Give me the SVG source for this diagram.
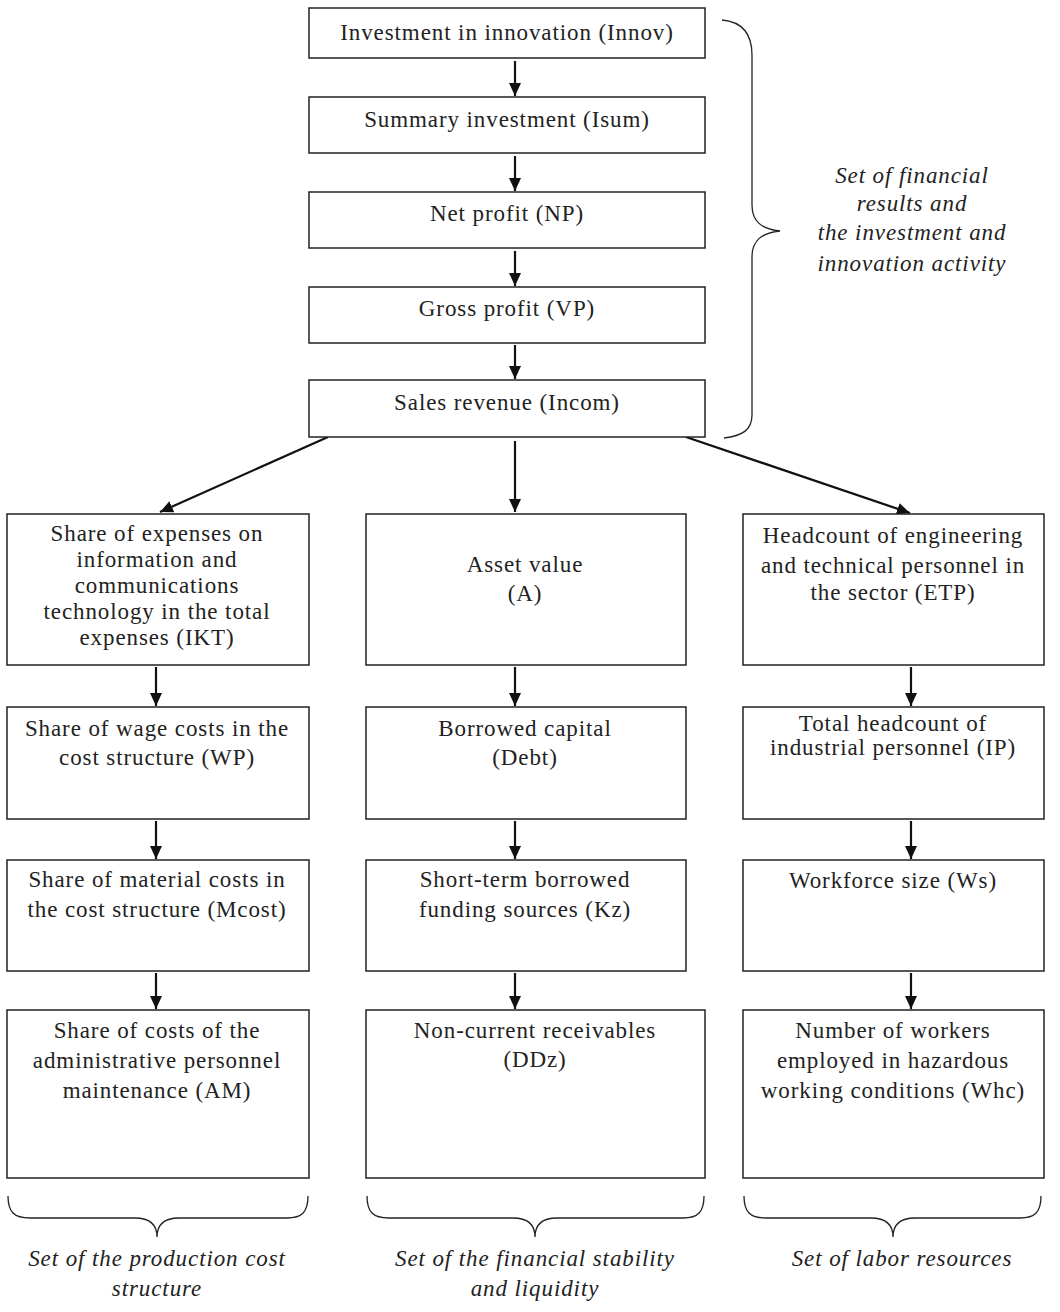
<svg xmlns="http://www.w3.org/2000/svg" width="1060" height="1312" viewBox="0 0 1060 1312">
<style>
.box{fill:#fff;stroke:#222;stroke-width:1.5}
.t{font-family:"Liberation Serif","Times New Roman",serif;font-size:23px;letter-spacing:0.9px;fill:#222;text-anchor:middle}
.it{font-family:"Liberation Serif","Times New Roman",serif;font-size:23px;letter-spacing:0.9px;font-style:italic;fill:#222;text-anchor:middle}
.c{stroke:#111;stroke-width:2.2;fill:none}
.br{stroke:#222;stroke-width:1.3;fill:none}
</style>
<defs>
<marker id="ah" markerUnits="userSpaceOnUse" markerWidth="14" markerHeight="14" refX="13" refY="6" orient="auto">
<path d="M0,0 L13,6 L0,12 Z" fill="#111"/>
</marker>
</defs>
<rect width="1060" height="1312" fill="#fff"/>
<g id="connectors">
<line class="c" x1="515" y1="61" x2="515" y2="96" marker-end="url(#ah)"/>
<line class="c" x1="515" y1="156" x2="515" y2="191" marker-end="url(#ah)"/>
<line class="c" x1="515" y1="251" x2="515" y2="286" marker-end="url(#ah)"/>
<line class="c" x1="515" y1="345" x2="515" y2="379" marker-end="url(#ah)"/>
<line class="c" x1="328" y1="437" x2="160" y2="512" marker-end="url(#ah)"/>
<line class="c" x1="515" y1="441" x2="515" y2="512" marker-end="url(#ah)"/>
<line class="c" x1="686" y1="437" x2="910" y2="513" stroke-width="3.2" marker-end="url(#ah)"/>
<line class="c" x1="156" y1="667" x2="156" y2="706" marker-end="url(#ah)"/>
<line class="c" x1="156" y1="821" x2="156" y2="859" marker-end="url(#ah)"/>
<line class="c" x1="156" y1="973" x2="156" y2="1009" marker-end="url(#ah)"/>
<line class="c" x1="515" y1="667" x2="515" y2="706" marker-end="url(#ah)"/>
<line class="c" x1="515" y1="821" x2="515" y2="859" marker-end="url(#ah)"/>
<line class="c" x1="515" y1="973" x2="515" y2="1009" marker-end="url(#ah)"/>
<line class="c" x1="911" y1="667" x2="911" y2="706" marker-end="url(#ah)"/>
<line class="c" x1="911" y1="821" x2="911" y2="859" marker-end="url(#ah)"/>
<line class="c" x1="911" y1="973" x2="911" y2="1009" marker-end="url(#ah)"/>
</g>
<g id="innov"><rect class="box" x="309" y="8" width="396" height="50"/><text class="t" x="507" y="40">Investment in innovation (Innov)</text></g>
<g id="isum"><rect class="box" x="309" y="97" width="396" height="56"/><text class="t" x="507" y="127">Summary investment (Isum)</text></g>
<g id="np"><rect class="box" x="309" y="192" width="396" height="56"/><text class="t" x="507" y="221">Net profit (NP)</text></g>
<g id="vp"><rect class="box" x="309" y="287" width="396" height="56"/><text class="t" x="507" y="316">Gross profit (VP)</text></g>
<g id="incom"><rect class="box" x="309" y="380" width="396" height="57"/><text class="t" x="507" y="410">Sales revenue (Incom)</text></g>
<g id="ikt"><rect class="box" x="7" y="514" width="302" height="151"/>
<text class="t" x="157" y="541">Share of expenses on</text>
<text class="t" x="157" y="567">information and</text>
<text class="t" x="157" y="593">communications</text>
<text class="t" x="157" y="619">technology in the total</text>
<text class="t" x="157" y="645">expenses (IKT)</text></g>
<g id="wp"><rect class="box" x="7" y="707" width="302" height="112"/>
<text class="t" x="157" y="736">Share of wage costs in the</text>
<text class="t" x="157" y="765">cost structure (WP)</text></g>
<g id="mcost"><rect class="box" x="7" y="860" width="302" height="111"/>
<text class="t" x="157" y="887">Share of material costs in</text>
<text class="t" x="157" y="917">the cost structure (Mcost)</text></g>
<g id="am"><rect class="box" x="7" y="1010" width="302" height="168"/>
<text class="t" x="157" y="1038">Share of costs of the</text>
<text class="t" x="157" y="1068">administrative personnel</text>
<text class="t" x="157" y="1098">maintenance (AM)</text></g>
<g id="a"><rect class="box" x="366" y="514" width="320" height="151"/>
<text class="t" x="525" y="572">Asset value</text>
<text class="t" x="525" y="601">(A)</text></g>
<g id="debt"><rect class="box" x="366" y="707" width="320" height="112"/>
<text class="t" x="525" y="736">Borrowed capital</text>
<text class="t" x="525" y="765">(Debt)</text></g>
<g id="kz"><rect class="box" x="366" y="860" width="320" height="111"/>
<text class="t" x="525" y="887">Short-term borrowed</text>
<text class="t" x="525" y="917">funding sources (Kz)</text></g>
<g id="ddz"><rect class="box" x="366" y="1010" width="339" height="168"/>
<text class="t" x="535" y="1038">Non-current receivables</text>
<text class="t" x="535" y="1067">(DDz)</text></g>
<g id="etp"><rect class="box" x="743" y="514" width="301" height="151"/>
<text class="t" x="893" y="543">Headcount of engineering</text>
<text class="t" x="893" y="573">and technical personnel in</text>
<text class="t" x="893" y="600">the sector (ETP)</text></g>
<g id="ip"><rect class="box" x="743" y="707" width="301" height="112"/>
<text class="t" x="893" y="731">Total headcount of</text>
<text class="t" x="893" y="755">industrial personnel (IP)</text></g>
<g id="ws"><rect class="box" x="743" y="860" width="301" height="111"/>
<text class="t" x="893" y="888">Workforce size (Ws)</text></g>
<g id="whc"><rect class="box" x="743" y="1010" width="301" height="168"/>
<text class="t" x="893" y="1038">Number of workers</text>
<text class="t" x="893" y="1068">employed in hazardous</text>
<text class="t" x="893" y="1098">working conditions (Whc)</text></g>
<g id="brace-financial">
<path class="br" d="M722,20 C744,22 752,35 752,55 L752,205 C752,222 762,229 780,231 C762,233 752,240 752,257 L752,415 C752,430 742,436 724,438"/>
<text class="it" x="912" y="183">Set of financial</text>
<text class="it" x="912" y="211">results and</text>
<text class="it" x="912" y="240">the investment and</text>
<text class="it" x="912" y="271">innovation activity</text>
</g>
<g id="brace-cost">
<path class="br" d="M8,1196 C8,1212 14,1218 30,1218 L135,1218 C150,1218 157,1225 157,1237 C157,1225 164,1218 179,1218 L287,1218 C302,1218 308,1212 308,1196"/>
<text class="it" x="157" y="1266">Set of the production cost</text>
<text class="it" x="157" y="1296">structure</text>
</g>
<g id="brace-fin">
<path class="br" d="M367,1196 C367,1212 373,1218 389,1218 L513,1218 C528,1218 535,1225 535,1237 C535,1225 542,1218 557,1218 L683,1218 C698,1218 704,1212 704,1196"/>
<text class="it" x="535" y="1266">Set of the financial stability</text>
<text class="it" x="535" y="1296">and liquidity</text>
</g>
<g id="brace-labor">
<path class="br" d="M744,1196 C744,1212 750,1218 766,1218 L871,1218 C886,1218 893,1225 893,1237 C893,1225 900,1218 915,1218 L1020,1218 C1035,1218 1041,1212 1041,1196"/>
<text class="it" x="902" y="1266">Set of labor resources</text>
</g>
</svg>
